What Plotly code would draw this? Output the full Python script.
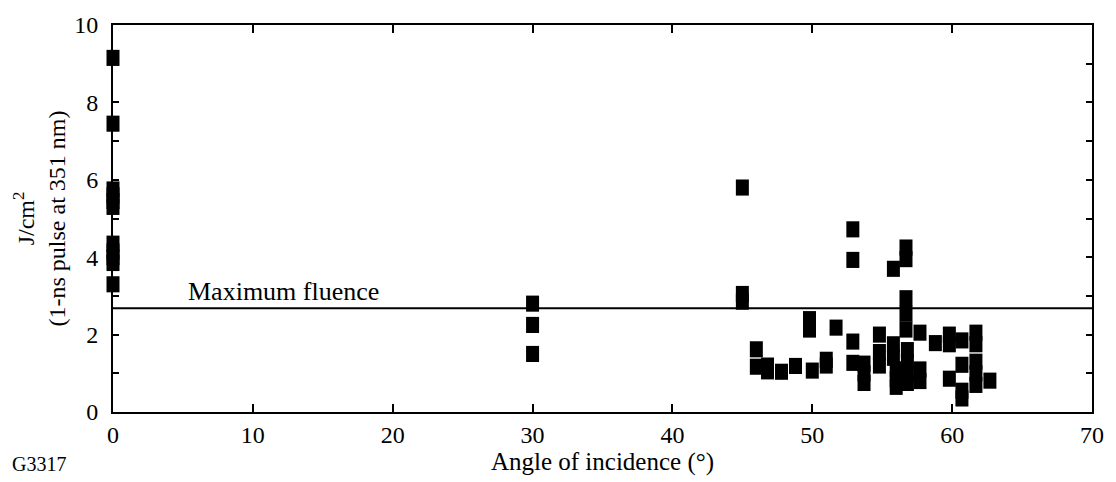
import plotly.graph_objects as go

angle_0 = [0]*11
flu_0 = [9.15, 7.45, 5.75, 5.6, 5.45, 5.3, 4.35, 4.15, 4.0, 3.85, 3.3]

angles = [30, 30, 30,
          45, 45, 45,
          46, 46, 46.8, 46.8, 47.8, 48.8, 49.8, 49.8, 50, 51, 51,
          51.7, 52.9, 52.9, 52.9, 52.9, 53.7, 53.7, 53.7,
          54.8, 54.8, 54.8, 55.8, 55.8, 55.8, 56, 56, 56,
          56.7, 56.7, 56.7, 56.7, 56.7, 56.8, 56.8, 56.8, 56.8,
          57.7, 57.7, 57.7, 58.8, 59.8, 59.8, 59.8,
          60.7, 60.7, 60.7, 60.7, 61.7, 61.7, 61.7, 61.7, 61.7, 62.7]
fluence = [2.8, 2.25, 1.5,
           5.8, 3.05, 2.85,
           1.62, 1.17, 1.2, 1.05, 1.04, 1.19, 2.4, 2.13, 1.07, 1.35, 1.2,
           2.18, 4.72, 3.93, 1.82, 1.27, 1.25, 1.0, 0.75,
           2.0, 1.55, 1.2, 3.7, 1.75, 1.4, 1.1, 0.85, 0.65,
           4.25, 3.95, 2.94, 2.54, 2.13, 1.6, 1.3, 1.0, 0.75,
           2.05, 1.1, 0.8, 1.78, 2.0, 1.75, 0.86,
           1.85, 1.22, 0.55, 0.35, 2.05, 1.75, 1.3, 1.0, 0.7, 0.81]

max_fluence = 2.68

x_ticks = [0, 10, 20, 30, 40, 50, 60, 70]
y_ticks = [0, 2, 4, 6, 8, 10]

FONT = "Liberation Serif, Times New Roman, Times, serif"

fig = go.Figure()
marker = dict(symbol="line-ns", size=11.5, color="black",
              line=dict(color="black", width=13))
fig.add_trace(go.Scatter(x=angle_0 + angles, y=flu_0 + fluence, mode="markers",
                         marker=marker, showlegend=False, cliponaxis=False))

fig.add_shape(type="line", x0=0, x1=70, y0=max_fluence, y1=max_fluence,
              xref="x", yref="y", line=dict(color="black", width=2))
fig.add_annotation(x=5.2, y=max_fluence, xref="x", yref="y", text="Maximum fluence",
                   showarrow=False, xanchor="left", yanchor="bottom", yshift=0,
                   font=dict(family=FONT, size=26, color="black"))
fig.add_annotation(x=-0.105, y=-0.1345, xref="paper", yref="paper", text="G3317",
                   showarrow=False, xanchor="left", yanchor="middle",
                   font=dict(family=FONT, size=20, color="black"))

axis_common = dict(showgrid=False, zeroline=False, showline=True, linecolor="black",
                   linewidth=2, mirror="allticks", ticks="inside", tickcolor="black",
                   tickfont=dict(family=FONT, size=24, color="black"))

fig.update_xaxes(range=[0, 70], tickvals=x_ticks, ticklen=8, tickwidth=1.5,
                 title=dict(text="Angle of incidence (°)", standoff=2,
                            font=dict(family=FONT, size=25, color="black")),
                 **axis_common)
fig.update_yaxes(range=[0, 10], tickvals=y_ticks, ticklen=6, tickwidth=1.5,
                 ticklabelstandoff=8,
                 minor=dict(dtick=1, ticks="inside", ticklen=6, tickcolor="black", tickwidth=1.5),
                 title=dict(text="J/cm<sup>2</sup><br>(1-ns pulse at 351 nm)", standoff=2,
                            font=dict(family=FONT, size=24, color="black")),
                 **axis_common)

fig.update_layout(width=1116, height=482, paper_bgcolor="white", plot_bgcolor="white",
                  margin=dict(l=113, r=22, t=18, b=70),
                  font=dict(family=FONT, color="black"))

fig.write_html("out.html")
